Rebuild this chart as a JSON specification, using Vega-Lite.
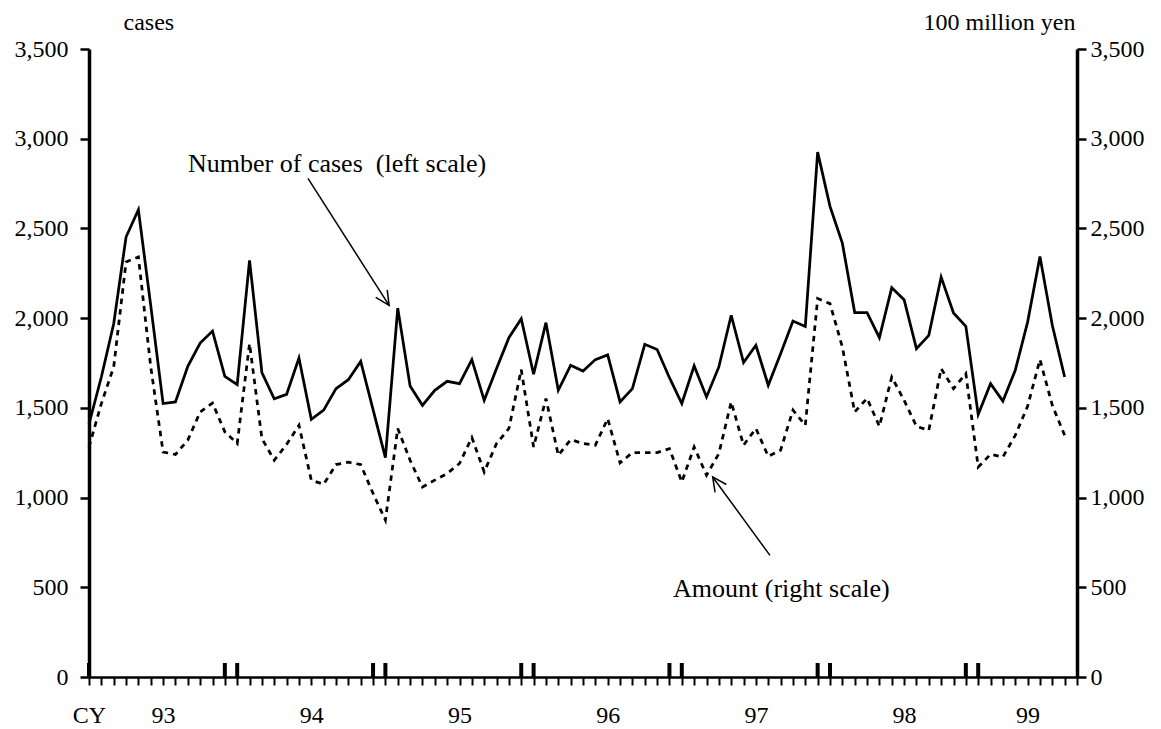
{
  "$schema": "https://vega.github.io/schema/vega-lite/v6.json",
  "width": 988,
  "height": 628,
  "autosize": {"type": "none"},
  "padding": {"left": 89, "top": 49, "right": 84, "bottom": 52},
  "background": "white",
  "config": {
    "view": {"stroke": null},
    "font": "Liberation Serif",
    "axis": {"grid": false, "domainColor": "black", "tickColor": "black", "labelColor": "black", "titleColor": "black", "labelFont": "Liberation Serif", "titleFont": "Liberation Serif", "labelFontSize": 24, "titleFontSize": 24, "titleFontWeight": "normal"}
  },
  "datasets": {
    "series": [
      {"t": 0, "month": "1993-01", "cases": 1410, "amount": 1282},
      {"t": 1, "month": "1993-02", "cases": 1672, "amount": 1524},
      {"t": 2, "month": "1993-03", "cases": 1969, "amount": 1728},
      {"t": 3, "month": "1993-04", "cases": 2452, "amount": 2313},
      {"t": 4, "month": "1993-05", "cases": 2604, "amount": 2341},
      {"t": 5, "month": "1993-06", "cases": 2070, "amount": 1728},
      {"t": 6, "month": "1993-07", "cases": 1524, "amount": 1254},
      {"t": 7, "month": "1993-08", "cases": 1533, "amount": 1240},
      {"t": 8, "month": "1993-09", "cases": 1732, "amount": 1320},
      {"t": 9, "month": "1993-10", "cases": 1861, "amount": 1477},
      {"t": 10, "month": "1993-11", "cases": 1928, "amount": 1527},
      {"t": 11, "month": "1993-12", "cases": 1676, "amount": 1366},
      {"t": 12, "month": "1994-01", "cases": 1630, "amount": 1301},
      {"t": 13, "month": "1994-02", "cases": 2322, "amount": 1858},
      {"t": 14, "month": "1994-03", "cases": 1697, "amount": 1329},
      {"t": 15, "month": "1994-04", "cases": 1550, "amount": 1208},
      {"t": 16, "month": "1994-05", "cases": 1575, "amount": 1296},
      {"t": 17, "month": "1994-06", "cases": 1778, "amount": 1403},
      {"t": 18, "month": "1994-07", "cases": 1436, "amount": 1097},
      {"t": 19, "month": "1994-08", "cases": 1487, "amount": 1074},
      {"t": 20, "month": "1994-09", "cases": 1607, "amount": 1184},
      {"t": 21, "month": "1994-10", "cases": 1657, "amount": 1197},
      {"t": 22, "month": "1994-11", "cases": 1759, "amount": 1184},
      {"t": 23, "month": "1994-12", "cases": 1490, "amount": 1023},
      {"t": 24, "month": "1995-01", "cases": 1223, "amount": 874},
      {"t": 25, "month": "1995-02", "cases": 2056, "amount": 1385},
      {"t": 26, "month": "1995-03", "cases": 1622, "amount": 1208},
      {"t": 27, "month": "1995-04", "cases": 1514, "amount": 1059},
      {"t": 28, "month": "1995-05", "cases": 1598, "amount": 1097},
      {"t": 29, "month": "1995-06", "cases": 1648, "amount": 1134},
      {"t": 30, "month": "1995-07", "cases": 1635, "amount": 1190},
      {"t": 31, "month": "1995-08", "cases": 1769, "amount": 1335},
      {"t": 32, "month": "1995-09", "cases": 1542, "amount": 1143},
      {"t": 33, "month": "1995-10", "cases": 1719, "amount": 1301},
      {"t": 34, "month": "1995-11", "cases": 1891, "amount": 1385},
      {"t": 35, "month": "1995-12", "cases": 1997, "amount": 1713},
      {"t": 36, "month": "1996-01", "cases": 1687, "amount": 1282},
      {"t": 37, "month": "1996-02", "cases": 1975, "amount": 1552},
      {"t": 38, "month": "1996-03", "cases": 1598, "amount": 1236},
      {"t": 39, "month": "1996-04", "cases": 1737, "amount": 1323},
      {"t": 40, "month": "1996-05", "cases": 1705, "amount": 1301},
      {"t": 41, "month": "1996-06", "cases": 1769, "amount": 1292},
      {"t": 42, "month": "1996-07", "cases": 1795, "amount": 1440},
      {"t": 43, "month": "1996-08", "cases": 1533, "amount": 1193},
      {"t": 44, "month": "1996-09", "cases": 1607, "amount": 1251},
      {"t": 45, "month": "1996-10", "cases": 1854, "amount": 1251},
      {"t": 46, "month": "1996-11", "cases": 1825, "amount": 1251},
      {"t": 47, "month": "1996-12", "cases": 1668, "amount": 1273},
      {"t": 48, "month": "1997-01", "cases": 1524, "amount": 1087},
      {"t": 49, "month": "1997-02", "cases": 1734, "amount": 1282},
      {"t": 50, "month": "1997-03", "cases": 1561, "amount": 1125},
      {"t": 51, "month": "1997-04", "cases": 1728, "amount": 1245},
      {"t": 52, "month": "1997-05", "cases": 2016, "amount": 1533},
      {"t": 53, "month": "1997-06", "cases": 1752, "amount": 1292},
      {"t": 54, "month": "1997-07", "cases": 1849, "amount": 1385},
      {"t": 55, "month": "1997-08", "cases": 1626, "amount": 1230},
      {"t": 56, "month": "1997-09", "cases": 1802, "amount": 1264},
      {"t": 57, "month": "1997-10", "cases": 1984, "amount": 1487},
      {"t": 58, "month": "1997-11", "cases": 1954, "amount": 1403},
      {"t": 59, "month": "1997-12", "cases": 2925, "amount": 2109},
      {"t": 60, "month": "1998-01", "cases": 2623, "amount": 2081},
      {"t": 61, "month": "1998-02", "cases": 2418, "amount": 1839},
      {"t": 62, "month": "1998-03", "cases": 2031, "amount": 1477},
      {"t": 63, "month": "1998-04", "cases": 2031, "amount": 1553},
      {"t": 64, "month": "1998-05", "cases": 1891, "amount": 1397},
      {"t": 65, "month": "1998-06", "cases": 2170, "amount": 1672},
      {"t": 66, "month": "1998-07", "cases": 2103, "amount": 1542},
      {"t": 67, "month": "1998-08", "cases": 1830, "amount": 1397},
      {"t": 68, "month": "1998-09", "cases": 1904, "amount": 1375},
      {"t": 69, "month": "1998-10", "cases": 2229, "amount": 1719},
      {"t": 70, "month": "1998-11", "cases": 2029, "amount": 1607},
      {"t": 71, "month": "1998-12", "cases": 1954, "amount": 1691},
      {"t": 72, "month": "1999-01", "cases": 1463, "amount": 1170},
      {"t": 73, "month": "1999-02", "cases": 1635, "amount": 1241},
      {"t": 74, "month": "1999-03", "cases": 1538, "amount": 1226},
      {"t": 75, "month": "1999-04", "cases": 1709, "amount": 1347},
      {"t": 76, "month": "1999-05", "cases": 1978, "amount": 1509},
      {"t": 77, "month": "1999-06", "cases": 2344, "amount": 1769},
      {"t": 78, "month": "1999-07", "cases": 1960, "amount": 1514},
      {"t": 79, "month": "1999-08", "cases": 1672, "amount": 1347}
    ],
    "yearMarks": [
      {"t": 0}, {"t": 11}, {"t": 12}, {"t": 23}, {"t": 24}, {"t": 35}, {"t": 36},
      {"t": 47}, {"t": 48}, {"t": 59}, {"t": 60}, {"t": 71}, {"t": 72}
    ],
    "arrows": [
      {"name": "cases", "t0": 17.73, "v0": 2779, "t": 24.3, "v": 2071},
      {"name": "amount", "t0": 55.14, "v0": 678, "t": 50.5, "v": 1115}
    ],
    "labels": [
      {"text": "Number of cases\u00a0 (left scale)", "t": 8.02, "v": 2814},
      {"text": "Amount (right scale)", "t": 47.29, "v": 445}
    ]
  },
  "encoding": {
    "x": {
      "field": "t", "type": "quantitative",
      "scale": {"domain": [0, 80], "nice": false, "zero": false},
      "axis": {
        "title": null,
        "values": [0,1,2,3,4,5,6,7,8,9,10,11,12,13,14,15,16,17,18,19,20,21,22,23,24,25,26,27,28,29,30,31,32,33,34,35,36,37,38,39,40,41,42,43,44,45,46,47,48,49,50,51,52,53,54,55,56,57,58,59,60,61,62,63,64,65,66,67,68,69,70,71,72,73,74,75,76,77,78,79,80],
        "labelExpr": "datum.value==0?'CY':datum.value==6?'93':datum.value==18?'94':datum.value==30?'95':datum.value==42?'96':datum.value==54?'97':datum.value==66?'98':datum.value==76?'99':''",
        "tickSize": 8, "tickWidth": 2, "domainWidth": 2.5,
        "labelPadding": 18, "labelOverlap": false, "labelFlush": false, "labelBound": false
      }
    }
  },
  "layer": [
    {
      "data": {"name": "series"},
      "mark": {"type": "line", "color": "black", "strokeWidth": 2.75, "strokeJoin": "miter"},
      "encoding": {
        "y": {
          "field": "cases", "type": "quantitative",
          "scale": {"domain": [0, 3500], "nice": false},
          "axis": {
            "values": [0, 500, 1000, 1500, 2000, 2500, 3000, 3500],
            "format": ",d",
            "tickSize": 9, "tickWidth": 2.5, "domainWidth": 3.5, "labelPadding": 12,
            "title": "cases", "titleAngle": 0, "titleAlign": "left", "titleBaseline": "middle",
            "titleX": 34, "titleY": -27
          }
        }
      }
    },
    {
      "data": {"name": "series"},
      "mark": {"type": "line", "color": "black", "strokeWidth": 2.75, "strokeDash": [5.5, 5]},
      "encoding": {
        "y": {
          "field": "amount", "type": "quantitative",
          "scale": {"domain": [0, 3500], "nice": false},
          "axis": {
            "orient": "right",
            "values": [0, 500, 1000, 1500, 2000, 2500, 3000, 3500],
            "format": ",d",
            "tickSize": 9, "tickWidth": 2.5, "domainWidth": 3.5, "labelPadding": 4,
            "title": "100 million yen", "titleAngle": 0, "titleAlign": "right", "titleBaseline": "middle",
            "titleX": -2, "titleY": -27
          }
        }
      }
    },
    {
      "data": {"name": "yearMarks"},
      "mark": {"type": "rule", "color": "black", "strokeWidth": 4},
      "encoding": {
        "y": {"datum": 0, "type": "quantitative", "scale": {"domain": [0, 3500], "nice": false}, "axis": null},
        "y2": {"datum": 78}
      }
    },
    {
      "data": {"name": "arrows"},
      "mark": {"type": "rule", "color": "black", "strokeWidth": 1.5},
      "encoding": {
        "x2": {"field": "t0"},
        "y": {"field": "v", "type": "quantitative", "scale": {"domain": [0, 3500], "nice": false}, "axis": null},
        "y2": {"field": "v0"}
      }
    },
    {
      "data": {"name": "arrows"},
      "transform": [{"filter": "datum.name == 'cases'"}],
      "mark": {"type": "point", "shape": "M -1 -0.49 L 0 0 L -1 0.49", "filled": false, "stroke": "black", "strokeWidth": 1.5, "size": 784, "angle": 57, "opacity": 1},
      "encoding": {
        "y": {"field": "v", "type": "quantitative", "scale": {"domain": [0, 3500], "nice": false}, "axis": null}
      }
    },
    {
      "data": {"name": "arrows"},
      "transform": [{"filter": "datum.name == 'amount'"}],
      "mark": {"type": "point", "shape": "M -1 -0.49 L 0 0 L -1 0.49", "filled": false, "stroke": "black", "strokeWidth": 1.5, "size": 784, "angle": 235, "opacity": 1},
      "encoding": {
        "y": {"field": "v", "type": "quantitative", "scale": {"domain": [0, 3500], "nice": false}, "axis": null}
      }
    },
    {
      "data": {"name": "labels"},
      "mark": {"type": "text", "font": "Liberation Serif", "fontSize": 26, "color": "black", "align": "left", "baseline": "alphabetic"},
      "encoding": {
        "y": {"field": "v", "type": "quantitative", "scale": {"domain": [0, 3500], "nice": false}, "axis": null},
        "text": {"field": "text"}
      }
    }
  ],
  "resolve": {"scale": {"y": "independent"}}
}
